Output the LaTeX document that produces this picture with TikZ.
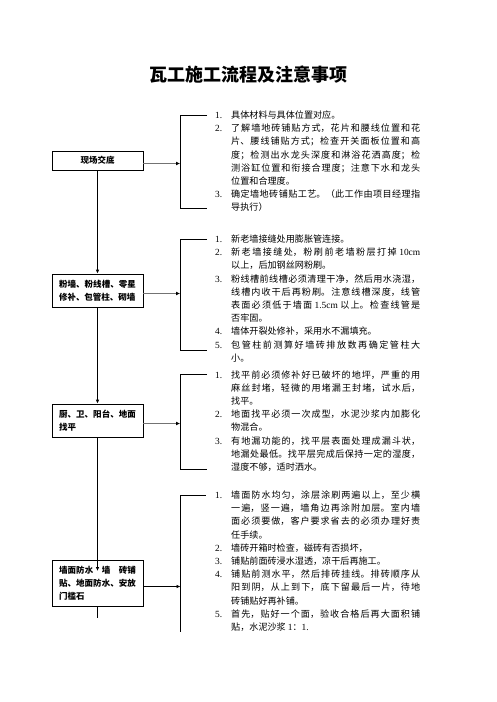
\documentclass[tikz,border=0pt]{standalone}
\usepackage{fontspec}
\setmainfont{Liberation Serif}
\newfontfamily\cjk{Noto Sans CJK SC}
\usetikzlibrary{arrows.meta}
\XeTeXlinebreaklocale "zh"
\XeTeXlinebreakskip=0pt plus 3pt
\newcommand\nostretch{\XeTeXlinebreakskip=0pt\relax}
\newcommand\itm[1]{\par\hangindent=16pt\hangafter=1\noindent\makebox[16pt][l]{\rmfamily\fontsize{9.4}{13.2}\selectfont #1}\ignorespaces}
\newcommand\lat[1]{{\rmfamily\fontsize{9.4}{13.2}\selectfont #1}}
\newcommand\txtfont{\cjk\fontsize{9.1}{13.2}\selectfont\parindent=0pt\emergencystretch=0pt}
\tikzset{
  box/.style={draw, line width=0.8pt, minimum width=91pt, inner xsep=7pt, inner ysep=0pt,
    font=\cjk\bfseries\fontsize{8.5}{13}\selectfont, text width=77pt, align=justify},
  varrow/.style={line width=0.8pt, -{Latex[length=4pt,width=3.6pt]}},
  harrow/.style={line width=1.5pt, black!55, -{Latex[length=4pt,width=4pt,black]}},
  harrowb/.style={line width=0.8pt, -{Latex[length=4pt,width=3.6pt]}},
  brk/.style={line width=0.8pt},
  list/.style={anchor=base west, inner sep=0pt},
}
\begin{document}
\begin{tikzpicture}[x=1pt,y=-1pt]
\useasboundingbox (0,0) rectangle (496,702);
% title
\node[font=\cjk\bfseries\fontsize{18}{20}\selectfont] (title) at (248,74.5) {瓦工施工流程及注意事项};
% boxes
\node[draw, line width=0.8pt, minimum width=91pt, minimum height=19pt, inner sep=0pt,
  font=\cjk\bfseries\fontsize{8.5}{13}\selectfont\nostretch] (b1) at (97.5,160.5) {现场交底};
\node[box, minimum height=33pt] (b2) at (97.5,290.5) {粉墙、粉线槽、零星\linebreak 修补、包管柱、砌墙};
\node[box, minimum height=33pt] (b3) at (97.5,420.5) {厨、卫、阳台、地面\linebreak 找平};
\node[box, minimum height=46pt] (b4) at (97.5,583) {墙面防水\hspace{1em}墙\hspace{1em}砖铺\linebreak 贴、地面防水、安放\linebreak 门槛石};
% vertical connectors
\coordinate (a4) at (97.5,571);
\coordinate (s4) at (97.5,618);
\draw[varrow] (b1.south) -- (b2.north);
\draw[varrow] (b2.south) -- (b3.north);
\draw[varrow] (b3.south) -- (a4);
\draw[line width=0.8pt] (b4.south) -- (s4);
% brackets
\coordinate (k1t) at (180,115);  \coordinate (k1b) at (180,208);
\coordinate (k2t) at (180,239);  \coordinate (k2b) at (180,350);
\coordinate (k3t) at (180,374.5);\coordinate (k3b) at (180,469);
\coordinate (k4t) at (180.5,495);\coordinate (k4b) at (180.5,632);
\draw[brk] ([xshift=27pt]k1t) -- (k1t) -- (k1b) -- ([xshift=27pt]k1b);
\draw[brk] ([xshift=27pt]k2t) -- (k2t) -- (k2b) -- ([xshift=27pt]k2b);
\draw[brk] ([xshift=27pt]k3t) -- (k3t) -- (k3b) -- ([xshift=27pt]k3b);
\draw[brk] ([xshift=25pt]k4t) -- (k4t) -- (k4b);
% horizontal arrows
\draw[harrow] ([yshift=-3pt]b1.east) -- ([yshift=-3pt]b1.east -| k1t);
\draw[harrow] ([yshift=-3pt]b2.east) -- ([yshift=-3pt]b2.east -| k2t);
\draw[harrow] ([yshift=-3pt]b3.east) -- ([yshift=-3pt]b3.east -| k3t);
\draw[harrowb] ([yshift=-3.5pt]b4.east) -- ([yshift=-3.5pt]b4.east -| k4t);
% lists
\node[list] (t1) at (215,118.5) {\parbox[t]{205pt}{\txtfont
\itm{1.}具体材料与具体位置对应。
\itm{2.}了解墙地砖铺贴方式，花片和腰线位置和花\linebreak 片、腰线铺贴方式；检查开关面板位置和高\linebreak 度；检测出水龙头深度和淋浴花洒高度；检\linebreak 测浴缸位置和衔接合理度；注意下水和龙头\linebreak 位置和合理度。
\itm{3.}确定墙地砖铺贴工艺。（此工作由项目经理指\linebreak 导执行）\par}};
\node[list] (t2) at (215,242.5) {\parbox[t]{205pt}{\txtfont
\itm{1.}新老墙接缝处用膨胀管连接。
\itm{2.}新老墙接缝处，粉刷前老墙粉层打掉 \lat{10cm}\linebreak 以上，后加钢丝网粉刷。
\itm{3.}粉线槽前线槽必须清理干净，然后用水浇湿，\linebreak 线槽内收干后再粉刷。注意线槽深度，线管\linebreak 表面必须低于墙面 \lat{1.5cm} 以上。检查线管是\linebreak 否牢固。
\itm{4.}墙体开裂处修补，采用水不漏填充。
\itm{5.}包管柱前测算好墙砖排放数再确定管柱大\linebreak 小。\par}};
\node[list] (t3) at (215,378) {\parbox[t]{205pt}{\txtfont
\itm{1.}找平前必须修补好已破坏的地坪，严重的用\linebreak 麻丝封堵，轻微的用堵漏王封堵，试水后，\linebreak 找平。
\itm{2.}地面找平必须一次成型，水泥沙浆内加膨化\linebreak 物混合。
\itm{3.}有地漏功能的，找平层表面处理成漏斗状，\linebreak 地漏处最低。找平层完成后保持一定的湿度，\linebreak 湿度不够，适时洒水。\par}};
\node[list] (t4) at (215,498.5) {\parbox[t]{205pt}{\txtfont
\itm{1.}墙面防水均匀，涂层涂刷两遍以上，至少横\linebreak 一遍，竖一遍，墙角边再涂附加层。室内墙\linebreak 面必须要做，客户要求省去的必须办理好责\linebreak 任手续。
\itm{2.}墙砖开箱时检查，磁砖有否损坏，
\itm{3.}铺贴前面砖浸水湿透，凉干后再施工。
\itm{4.}铺贴前测水平，然后排砖挂线。排砖顺序从\linebreak 阳到阴，从上到下，底下留最后一片，待地\linebreak 砖铺贴好再补铺。
\itm{5.}首先，贴好一个面，验收合格后再大面积铺\linebreak 贴，水泥沙浆 \lat{1}：\lat{1.}\par}};
\end{tikzpicture}
\end{document}
